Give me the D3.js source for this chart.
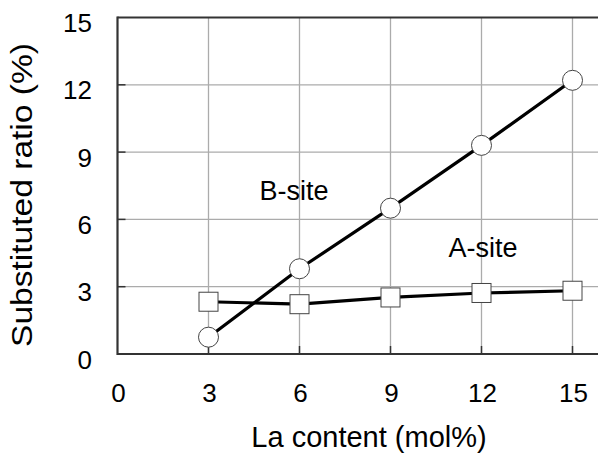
<!DOCTYPE html>
<html>
<head>
<meta charset="utf-8">
<script src="https://cdn.jsdelivr.net/npm/d3@7"></script>
<style>
html,body{margin:0;padding:0;background:#fff;}
svg{display:block;}
text{font-family:"Liberation Sans",Arial,sans-serif;fill:#000;}
</style>
</head>
<body>
<svg id="chart" width="598" height="453"></svg>
<script>
const laContent = [3, 6, 9, 12, 15];
const bSite = [0.75, 3.8, 6.5, 9.3, 12.2];
const aSite = [2.33, 2.22, 2.52, 2.72, 2.82];
const xTicks = [0, 3, 6, 9, 12, 15];
const yTicks = [0, 3, 6, 9, 12, 15];
const seriesLabels = [{text: "B-site", x: 5.82, y: 6.87}, {text: "A-site", x: 12.05, y: 4.34}];

(function () {
const svg = d3.select("#chart");
const pLeft = 117.5, pTop = 17.5, pBottom = 354;
const x = d3.scaleLinear().domain([0, 18]).range([pLeft, pLeft + 91 * 6]);
const y = d3.scaleLinear().domain([0, 15]).range([pBottom, pTop]);

// grid
const g = svg.append("g");
g.selectAll(".vg").data(xTicks.filter(d => d > 0)).enter().append("line")
  .attr("x1", d => x(d)).attr("x2", d => x(d)).attr("y1", pTop).attr("y2", pBottom)
  .attr("stroke", "#ababab").attr("stroke-width", 1.3);
g.selectAll(".hg").data(yTicks.filter(d => d > 0 && d < 15)).enter().append("line")
  .attr("x1", pLeft).attr("x2", 598).attr("y1", d => y(d)).attr("y2", d => y(d))
  .attr("stroke", "#ababab").attr("stroke-width", 1.3);

// frame
svg.append("line").attr("x1", pLeft).attr("x2", 598).attr("y1", pTop).attr("y2", pTop)
  .attr("stroke", "#333").attr("stroke-width", 2.2);
svg.append("line").attr("x1", pLeft).attr("x2", 598).attr("y1", pBottom).attr("y2", pBottom)
  .attr("stroke", "#333").attr("stroke-width", 2.2);
svg.append("line").attr("x1", pLeft).attr("x2", pLeft).attr("y1", pTop - 1).attr("y2", pBottom + 1)
  .attr("stroke", "#333").attr("stroke-width", 2.2);

// inner ticks
svg.selectAll(".xt").data(xTicks.filter(d => d > 0)).enter().append("line")
  .attr("x1", d => x(d)).attr("x2", d => x(d)).attr("y1", pBottom).attr("y2", pBottom - 8)
  .attr("stroke", "#333").attr("stroke-width", 1.5);
svg.selectAll(".yt").data(yTicks.filter(d => d > 0 && d < 15)).enter().append("line")
  .attr("x1", pLeft).attr("x2", pLeft + 8).attr("y1", d => y(d)).attr("y2", d => y(d))
  .attr("stroke", "#333").attr("stroke-width", 1.5);

// tick labels
svg.selectAll(".xl").data(xTicks).enter().append("text")
  .attr("x", d => x(d) + 1).attr("y", 402).attr("text-anchor", "middle")
  .attr("font-size", 26).text(d => d);
svg.selectAll(".yl").data(yTicks).enter().append("text")
  .attr("x", 92).attr("y", d => y(d) + 14.5).attr("text-anchor", "end")
  .attr("font-size", 26).text(d => d);

// axis titles
svg.append("text").attr("x", 369).attr("y", 447).attr("text-anchor", "middle")
  .attr("font-size", 29).text("La content (mol%)");
svg.append("text").attr("transform", "translate(32,195) rotate(-90)")
  .attr("text-anchor", "middle").attr("font-size", 29)
  .attr("textLength", 304).attr("lengthAdjust", "spacingAndGlyphs")
  .text("Substituted ratio (%)");

// lines
const line = d3.line().x(d => x(d[0])).y(d => y(d[1]));
const bData = laContent.map((d, i) => [d, bSite[i]]);
const aData = laContent.map((d, i) => [d, aSite[i]]);
svg.append("path").attr("d", line(aData)).attr("fill", "none").attr("stroke", "#000").attr("stroke-width", 3.2);
svg.append("path").attr("d", line(bData)).attr("fill", "none").attr("stroke", "#000").attr("stroke-width", 3.2);

// markers
svg.selectAll(".sq").data(aData).enter().append("rect")
  .attr("x", d => x(d[0]) - 9.5).attr("y", d => y(d[1]) - 9.5)
  .attr("width", 19).attr("height", 19)
  .attr("fill", "#fff").attr("stroke", "#444").attr("stroke-width", 1);
svg.selectAll(".ci").data(bData).enter().append("circle")
  .attr("cx", d => x(d[0])).attr("cy", d => y(d[1])).attr("r", 10)
  .attr("fill", "#fff").attr("stroke", "#444").attr("stroke-width", 1);

// series labels
svg.selectAll(".sl").data(seriesLabels).enter().append("text")
  .attr("x", d => x(d.x)).attr("y", d => y(d.y)).attr("text-anchor", "middle")
  .attr("font-size", 27).text(d => d.text);
})();
</script>
</body>
</html>
